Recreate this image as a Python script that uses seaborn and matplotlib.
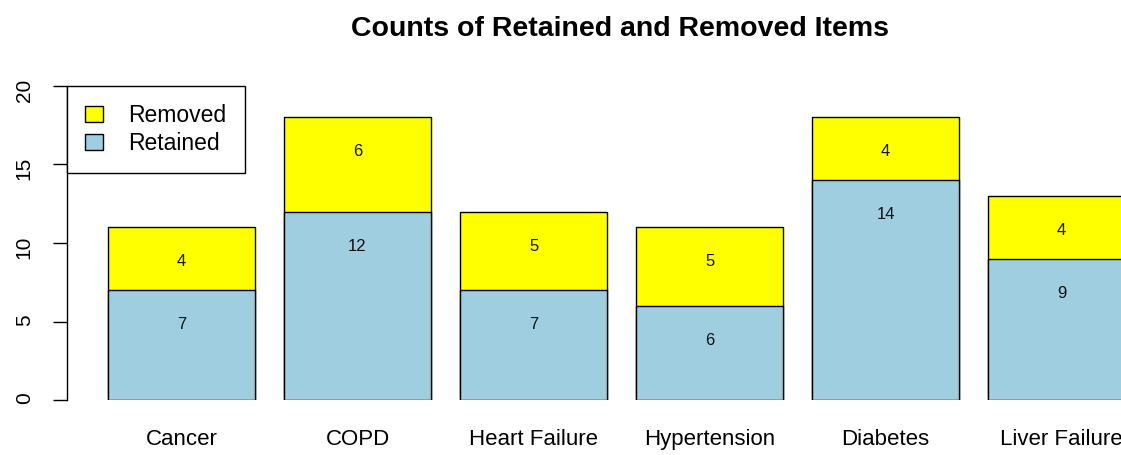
import numpy as np
import pandas as pd
import matplotlib
matplotlib.use('Agg')
import matplotlib.pyplot as plt
import matplotlib.patches as mpatches
import seaborn as sns

categories = ["Cancer", "COPD", "Heart Failure", "Hypertension", "Diabetes", "Liver Failure"]
retained = [7, 12, 7, 6, 14, 9]
removed = [4, 6, 5, 5, 4, 4]

sns.set_style("white")
plt.rcParams['font.family'] = ['Liberation Sans', 'DejaVu Sans']
plt.rcParams['text.color'] = 'black'
plt.rcParams['xtick.color'] = 'black'
plt.rcParams['ytick.color'] = 'black'

W, H = 1121, 455
fig = plt.figure(figsize=(W / 100, H / 100), dpi=100)
ax = fig.add_axes([67 / W, (H - 400) / H, (W - 67) / W, (400 - 86) / H])

df = pd.DataFrame({"category": categories, "retained": retained, "removed": removed})
df["total"] = df["retained"] + df["removed"]

blue = "#9ecee0"
yellow = "#ffff00"
# stacked bars: totals in yellow, retained drawn over them
sns.barplot(data=df, x="category", y="total", color=yellow, saturation=1,
            edgecolor="black", linewidth=1, width=0.835, ax=ax)
sns.barplot(data=df, x="category", y="retained", color=blue, saturation=1,
            edgecolor="black", linewidth=1, width=0.835, ax=ax)

for i, (r, t) in enumerate(zip(df["retained"], df["total"])):
    ax.text(i, r - 2.2, str(r), ha="center", va="center", fontsize=12, color="#111111")
    ax.text(i, t - 2.2, str(t - r), ha="center", va="center", fontsize=12, color="#111111")

ax.set_xlim(-0.651, 5.338)
ax.set_ylim(0, 20)
ax.set_xlabel("")
ax.set_ylabel("")
ax.set_yticks([0, 5, 10, 15, 20])
ax.tick_params(axis='y', left=True, length=10, width=1, color="black", labelcolor="black",
               labelrotation=90, labelsize=15, pad=14)
ax.tick_params(axis='x', length=0, labelsize=16, pad=21, labelcolor="black")
for s in ["top", "right", "bottom"]:
    ax.spines[s].set_visible(False)
ax.spines["left"].set_color("black")
ax.spines["left"].set_linewidth(1)

handles = [mpatches.Patch(facecolor=yellow, edgecolor="black", label="Removed"),
           mpatches.Patch(facecolor=blue, edgecolor="black", label="Retained")]
leg = fig.legend(handles=handles, loc="upper left", bbox_to_anchor=(67 / W, 1 - 86 / H),
                 bbox_transform=fig.transFigure, borderaxespad=0, fancybox=False,
                 framealpha=1, edgecolor="black", fontsize=16.5, handlelength=0.78,
                 handleheight=0.7, handletextpad=1.1, borderpad=0.8, labelspacing=0.2)
leg.get_frame().set_linewidth(1)
for t in leg.get_texts():
    t.set_color("black")

fig.text(619.5 / W, 1 - 29 / H, "Counts of Retained and Removed Items",
         ha="center", va="center", fontsize=20.5, fontweight="bold", color="black")

fig.savefig("out.png", dpi=100)
